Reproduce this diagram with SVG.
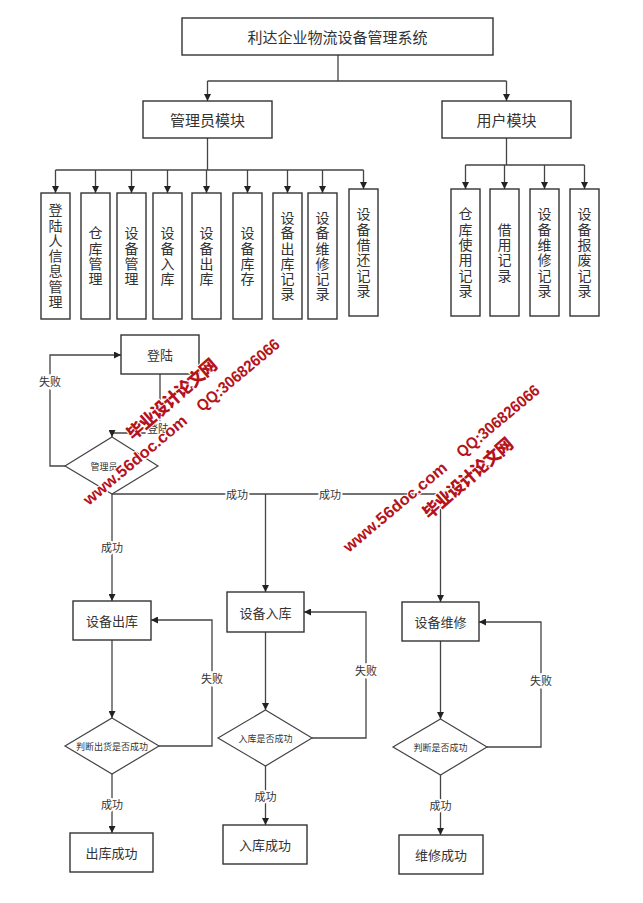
<svg xmlns="http://www.w3.org/2000/svg" width="643" height="903" viewBox="0 0 643 903">
<defs>
<marker id="arr" viewBox="0 0 10 10" refX="10" refY="5" markerWidth="7" markerHeight="7" markerUnits="userSpaceOnUse" orient="auto">
<path d="M0,0 L10,5 L0,10 z" fill="#222"/>
</marker>
<style>
.bx{fill:#fff;stroke:#333;stroke-width:1.4}
.dm{fill:#fff;stroke:#444;stroke-width:1.2}
.ln{fill:none;stroke:#444;stroke-width:1.3}
.la{fill:none;stroke:#444;stroke-width:1.3;marker-end:url(#arr)}
.t{font-family:"Noto Sans CJK SC",sans-serif;fill:#333;text-anchor:middle;dominant-baseline:central}
.t15{font-size:15px}
.t13{font-size:13px}
.tv{font-family:"Noto Sans CJK SC",sans-serif;fill:#333;font-size:14px;writing-mode:vertical-rl;text-anchor:middle;letter-spacing:1.3px}
.tl{font-size:11px;paint-order:stroke;stroke:#fff;stroke-width:4px}
.td{font-size:9px}
.wm{fill:#b5121b;font-weight:bold;text-anchor:middle;dominant-baseline:central;paint-order:stroke;stroke:#fff;stroke-width:2px}
.wmc{font-family:"Noto Sans CJK SC",sans-serif;font-size:17px;font-weight:900}
.wme{font-family:"Liberation Sans",Arial,sans-serif;font-size:16px}
</style>
</defs>
<rect width="643" height="903" fill="#fff"/>

<g id="connectors">
<path class="ln" d="M338,55 V81 M207.5,81 H506.5"/>
<path class="la" d="M207.5,81 V101"/>
<path class="la" d="M506.5,81 V101"/>
<path class="ln" d="M207.5,138 V170 M55.5,170 H363.5"/>
<path class="la" d="M55.5,170 V193"/>
<path class="la" d="M95.5,170 V193"/>
<path class="la" d="M131.5,170 V193"/>
<path class="la" d="M167.5,170 V193"/>
<path class="la" d="M206.5,170 V193"/>
<path class="la" d="M247.5,170 V193"/>
<path class="la" d="M287.5,170 V193"/>
<path class="la" d="M322.5,170 V193"/>
<path class="la" d="M363.5,170 V189"/>
<path class="ln" d="M506.5,138 V165 M465.5,165 H584.5"/>
<path class="la" d="M465.5,165 V189"/>
<path class="la" d="M504.5,165 V189"/>
<path class="la" d="M544.5,165 V189"/>
<path class="la" d="M584.5,165 V189"/>

<path class="la" d="M160,374 V433 H112 V437"/>
<path class="la" d="M65,466 H50 V355 H121"/>
<path class="la" d="M112,494 V601"/>
<path class="la" d="M112,494 H440.5 V602"/>
<path class="la" d="M265.5,494 V592"/>
<path class="la" d="M112,640 V718"/>
<path class="la" d="M159,746 H212 V620 H151"/>
<path class="la" d="M112,774 V833"/>
<path class="la" d="M265.5,632 V710"/>
<path class="la" d="M312,738 H366 V612 H304"/>
<path class="la" d="M265.5,766 V825"/>
<path class="la" d="M440.5,641 V719"/>
<path class="la" d="M487,747 H541 V622 H479"/>
<path class="la" d="M440.5,775 V835"/>

<text class="t tl" x="158" y="428">登陆</text>
<text class="t tl" x="50" y="381">失败</text>
<text class="t tl" x="112" y="547">成功</text>
<text class="t tl" x="237" y="494">成功</text>
<text class="t tl" x="330" y="494">成功</text>
<text class="t tl" x="212" y="678">失败</text>
<text class="t tl" x="366" y="670">失败</text>
<text class="t tl" x="541" y="680">失败</text>
<text class="t tl" x="112" y="804">成功</text>
<text class="t tl" x="265.5" y="796">成功</text>
<text class="t tl" x="440.5" y="805">成功</text>
</g>

<g id="title"><rect class="bx" x="182" y="18" width="311" height="37"/><text class="t t15" x="337.5" y="36.5">利达企业物流设备管理系统</text></g>
<g id="admin"><rect class="bx" x="143" y="101" width="129" height="37"/><text class="t t15" x="207.5" y="119.5">管理员模块</text></g>
<g id="user"><rect class="bx" x="442" y="101" width="129" height="37"/><text class="t t15" x="506.5" y="119.5">用户模块</text></g>

<g id="a1"><rect class="bx" x="41" y="193" width="29" height="126"/><text class="tv" x="55.5" y="256.5">登陆人信息管理</text></g>
<g id="a2"><rect class="bx" x="81" y="193" width="29" height="126"/><text class="tv" x="95.5" y="256.5">仓库管理</text></g>
<g id="a3"><rect class="bx" x="117" y="193" width="29" height="126"/><text class="tv" x="131.5" y="256.5">设备管理</text></g>
<g id="a4"><rect class="bx" x="153" y="193" width="29" height="126"/><text class="tv" x="167.5" y="256.5">设备入库</text></g>
<g id="a5"><rect class="bx" x="192" y="193" width="29" height="126"/><text class="tv" x="206.5" y="256.5">设备出库</text></g>
<g id="a6"><rect class="bx" x="233" y="193" width="29" height="126"/><text class="tv" x="247.5" y="256.5">设备库存</text></g>
<g id="a7"><rect class="bx" x="273" y="193" width="29" height="126"/><text class="tv" x="287.5" y="256.5">设备出库记录</text></g>
<g id="a8"><rect class="bx" x="308" y="193" width="29" height="126"/><text class="tv" x="322.5" y="256.5">设备维修记录</text></g>
<g id="a9"><rect class="bx" x="349" y="189" width="29" height="127"/><text class="tv" x="363.5" y="253">设备借还记录</text></g>

<g id="u1"><rect class="bx" x="451" y="189" width="29" height="127"/><text class="tv" x="465.5" y="253">仓库使用记录</text></g>
<g id="u2"><rect class="bx" x="490" y="189" width="29" height="127"/><text class="tv" x="504.5" y="253">借用记录</text></g>
<g id="u3"><rect class="bx" x="530" y="189" width="29" height="127"/><text class="tv" x="544.5" y="253">设备维修记录</text></g>
<g id="u4"><rect class="bx" x="570" y="189" width="29" height="127"/><text class="tv" x="584.5" y="253">设备报废记录</text></g>

<g id="login"><rect class="bx" x="121" y="335" width="78" height="39"/><text class="t t13" x="160" y="354.5">登陆</text></g>
<g id="d0"><polygon class="dm" points="112,437 158,466 112,494 65,466"/><text class="t td" x="104" y="466">管理员</text></g>
<g id="out"><rect class="bx" x="73" y="601" width="78" height="39"/><text class="t t13" x="112" y="620.5">设备出库</text></g>
<g id="in"><rect class="bx" x="227" y="592" width="77" height="40"/><text class="t t13" x="265.5" y="612">设备入库</text></g>
<g id="fix"><rect class="bx" x="402" y="602" width="77" height="39"/><text class="t t13" x="440.5" y="621.5">设备维修</text></g>
<g id="d1"><polygon class="dm" points="112,718 159,746 112,774 65,746"/><text class="t td" x="112" y="746">判断出货是否成功</text></g>
<g id="d2"><polygon class="dm" points="265.5,710 312,738 265.5,766 218,738"/><text class="t td" x="265.5" y="738">入库是否成功</text></g>
<g id="d3"><polygon class="dm" points="440.5,719 487,747 440.5,775 393,747"/><text class="t td" x="440.5" y="747">判断是否成功</text></g>
<g id="outok"><rect class="bx" x="70" y="833" width="83" height="39"/><text class="t t13" x="111.5" y="852.5">出库成功</text></g>
<g id="inok"><rect class="bx" x="223" y="825" width="84" height="39"/><text class="t t13" x="265" y="844.5">入库成功</text></g>
<g id="fixok"><rect class="bx" x="399" y="835" width="84" height="39"/><text class="t t13" x="441" y="854.5">维修成功</text></g>

<g id="watermark">
<text class="wm wmc" transform="translate(171,398) rotate(-41)" textLength="113">毕业设计论文网</text>
<text class="wm wme" transform="translate(135,460) rotate(-40)" textLength="130" lengthAdjust="spacingAndGlyphs">www.56doc.com</text>
<text class="wm wme" transform="translate(238,375) rotate(-40)" textLength="103" lengthAdjust="spacingAndGlyphs">QQ:306826066</text>
<text class="wm wme" transform="translate(395,507) rotate(-40)" textLength="130" lengthAdjust="spacingAndGlyphs">www.56doc.com</text>
<text class="wm wme" transform="translate(498,421) rotate(-40)" textLength="103" lengthAdjust="spacingAndGlyphs">QQ:306826066</text>
<text class="wm wmc" transform="translate(467,477) rotate(-41)" textLength="113">毕业设计论文网</text>
</g>
</svg>
